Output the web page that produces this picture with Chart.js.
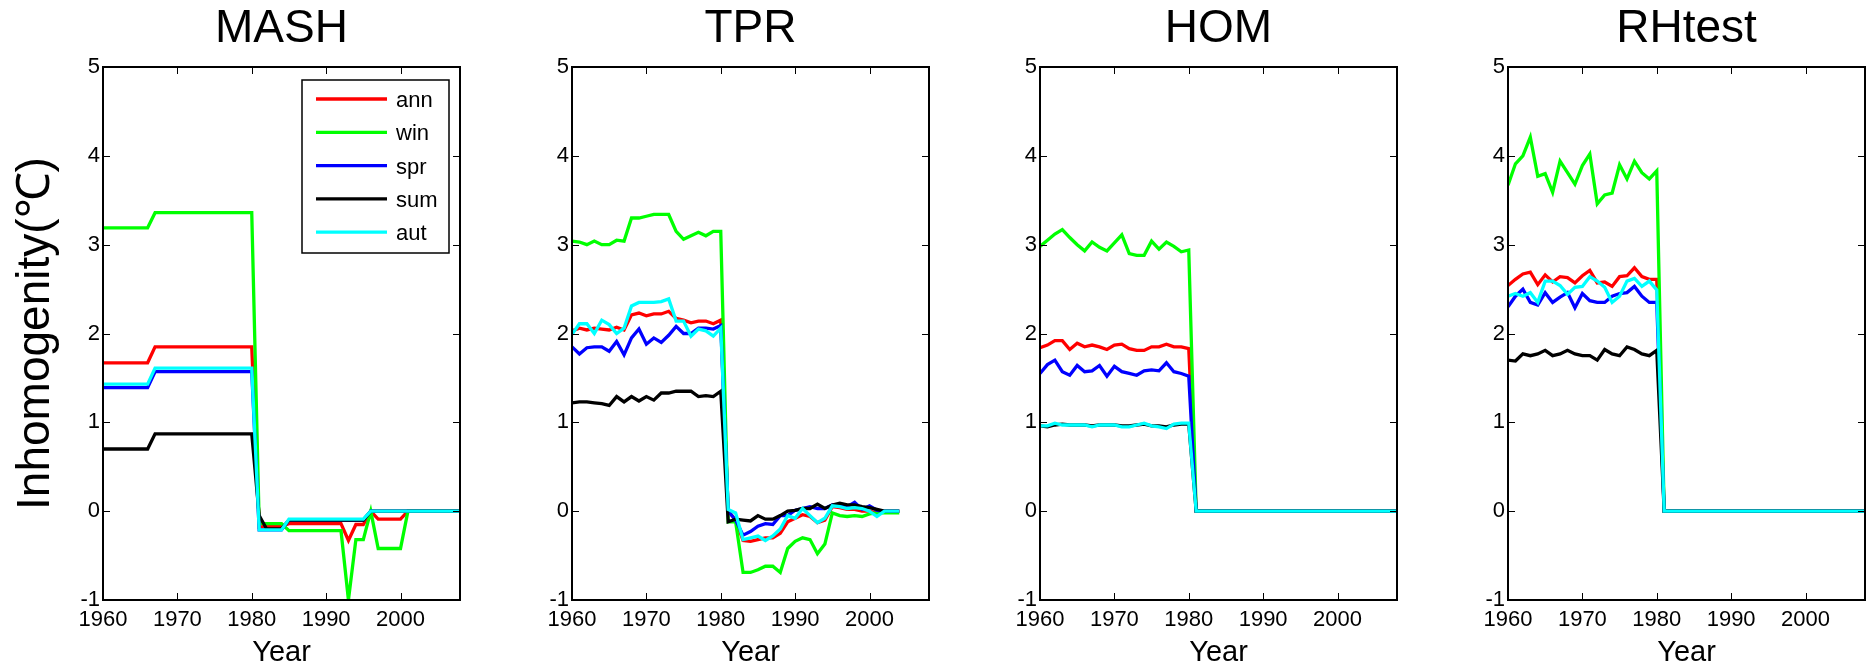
<!DOCTYPE html>
<html>
<head>
<meta charset="utf-8">
<script src="https://cdn.jsdelivr.net/npm/chart.js@4.4.0/dist/chart.umd.min.js"></script>
<style>
	body { margin: 0; background: #fff; }
	#wrap { position: relative; width: 1872px; height: 667px; overflow: hidden; }
	canvas { position: absolute; top: 0; }
</style>
</head>
<body>
<div id="wrap"></div>
<script>
// Series names and colours (same in all panels)
const seriesLabels = ['ann', 'win', 'spr', 'sum', 'aut'];
const seriesColors = ['#ff0000', '#00ff00', '#0000ff', '#000000', '#00ffff'];

// Years
const yearsFull = [1960,1961,1962,1963,1964,1965,1966,1967,1968,1969,1970,1971,1972,1973,1974,1975,1976,1977,1978,1979,1980,
	1981,1982,1983,1984,1985,1986,1987,1988,1989,1990,1991,1992,1993,1994,1995,1996,1997,1998,1999,2000,2001,2002,2003,2004,2005,2006,2007,2008];
const yearsTpr = [1960,1961,1962,1963,1964,1965,1966,1967,1968,1969,1970,1971,1972,1973,1974,1975,1976,1977,1978,1979,1980,
	1981,1982,1983,1984,1985,1986,1987,1988,1989,1990,1991,1992,1993,1994,1995,1996,1997,1998,1999,2000,2001,2002,2003,2004];

// Axis ticks
const xTicks = [1960, 1970, 1980, 1990, 2000];
const yTicks = [-1, 0, 1, 2, 3, 4, 5];

// MASH
const mashAnn = [1.67,1.67,1.67,1.67,1.67,1.67,1.67,1.85,1.85,1.85,1.85,1.85,1.85,1.85,1.85,1.85,1.85,1.85,1.85,1.85,1.85,
	-0.18,-0.17,-0.17,-0.17,-0.14,-0.14,-0.14,-0.14,-0.14,-0.14,-0.14,-0.14,-0.33,-0.15,-0.15,0,-0.09,-0.09,-0.09,-0.09,0,0,0,0,0,0,0,0];
const mashWin = [3.19,3.19,3.19,3.19,3.19,3.19,3.19,3.36,3.36,3.36,3.36,3.36,3.36,3.36,3.36,3.36,3.36,3.36,3.36,3.36,3.36,
	-0.14,-0.14,-0.14,-0.14,-0.22,-0.22,-0.22,-0.22,-0.22,-0.22,-0.22,-0.22,-1.0,-0.32,-0.32,0,-0.42,-0.42,-0.42,-0.42,0,0,0,0,0,0,0,0];
const mashSpr = [1.39,1.39,1.39,1.39,1.39,1.39,1.39,1.57,1.57,1.57,1.57,1.57,1.57,1.57,1.57,1.57,1.57,1.57,1.57,1.57,1.57,
	-0.21,-0.21,-0.21,-0.21,-0.1,-0.1,-0.1,-0.1,-0.1,-0.1,-0.1,-0.1,-0.1,-0.1,-0.1,0,0,0,0,0,0,0,0,0,0,0,0,0];
const mashSum = [0.70,0.70,0.70,0.70,0.70,0.70,0.70,0.87,0.87,0.87,0.87,0.87,0.87,0.87,0.87,0.87,0.87,0.87,0.87,0.87,0.87,
	-0.05,-0.2,-0.2,-0.2,-0.1,-0.1,-0.1,-0.1,-0.1,-0.1,-0.1,-0.1,-0.1,-0.1,-0.1,0,0,0,0,0,0,0,0,0,0,0,0,0];
const mashAut = [1.43,1.43,1.43,1.43,1.43,1.43,1.43,1.61,1.61,1.61,1.61,1.61,1.61,1.61,1.61,1.61,1.61,1.61,1.61,1.61,1.61,
	-0.21,-0.21,-0.21,-0.21,-0.09,-0.09,-0.09,-0.09,-0.09,-0.09,-0.09,-0.09,-0.09,-0.09,-0.09,0,0,0,0,0,0,0,0,0,0,0,0,0];

// TPR
const tprAnn = [2.03,2.06,2.04,2.06,2.05,2.04,2.07,2.04,2.21,2.23,2.2,2.22,2.22,2.25,2.17,2.15,2.12,2.14,2.14,2.11,2.15,
	0.0,-0.1,-0.33,-0.34,-0.32,-0.3,-0.3,-0.25,-0.12,-0.08,-0.04,-0.06,-0.13,-0.1,0.05,0.04,0.02,0.02,0.0,0.0,-0.02,0.0,0.0,0.0];
const tprWin = [3.04,3.03,3.0,3.04,3.0,3.0,3.05,3.04,3.3,3.3,3.32,3.34,3.34,3.34,3.15,3.06,3.1,3.14,3.1,3.15,3.15,
	-0.12,-0.12,-0.69,-0.69,-0.66,-0.62,-0.62,-0.69,-0.42,-0.34,-0.3,-0.32,-0.48,-0.37,-0.02,-0.05,-0.06,-0.05,-0.06,-0.03,-0.02,-0.02,-0.02,-0.02];
const tprSpr = [1.85,1.77,1.84,1.85,1.85,1.8,1.91,1.76,1.95,2.05,1.88,1.95,1.9,1.98,2.08,2.0,2.0,2.06,2.06,2.05,2.09,
	0.0,-0.1,-0.27,-0.23,-0.17,-0.14,-0.15,-0.05,-0.05,0.01,0.03,0.05,0.03,0.03,0.07,0.07,0.05,0.1,0.02,0.06,0.01,0.0,0.0,0.0];
const tprSum = [1.22,1.23,1.23,1.22,1.21,1.19,1.29,1.23,1.29,1.24,1.29,1.25,1.33,1.33,1.35,1.35,1.35,1.29,1.3,1.29,1.35,
	-0.12,-0.09,-0.1,-0.11,-0.05,-0.09,-0.09,-0.05,0.0,0.01,0.03,0.03,0.08,0.03,0.07,0.09,0.07,0.07,0.05,0.04,0.02,0.0,0.0,0.0];
const tprAut = [1.99,2.11,2.11,2.0,2.15,2.1,2.0,2.06,2.31,2.35,2.35,2.35,2.36,2.39,2.14,2.14,1.97,2.05,2.03,1.97,2.06,
	0.02,-0.02,-0.32,-0.3,-0.28,-0.33,-0.28,-0.2,-0.05,-0.08,0.03,-0.05,-0.13,-0.08,0.06,0.05,0.03,0.04,0.03,0.0,-0.06,0.0,0.0,0.0];

// HOM
const homAnn = [1.84,1.87,1.92,1.92,1.82,1.89,1.85,1.87,1.85,1.82,1.87,1.88,1.83,1.81,1.81,1.85,1.85,1.88,1.85,1.85,1.83,
	0,0,0,0,0,0,0,0,0,0,0,0,0,0,0,0,0,0,0,0,0,0,0,0,0,0,0,0];
const homWin = [2.98,3.05,3.12,3.17,3.08,3.0,2.93,3.03,2.97,2.93,3.02,3.11,2.9,2.88,2.88,3.04,2.95,3.03,2.98,2.92,2.94,
	0,0,0,0,0,0,0,0,0,0,0,0,0,0,0,0,0,0,0,0,0,0,0,0,0,0,0,0];
const homSpr = [1.55,1.65,1.7,1.57,1.53,1.64,1.57,1.58,1.64,1.52,1.63,1.57,1.55,1.53,1.58,1.59,1.58,1.67,1.57,1.55,1.52,
	0,0,0,0,0,0,0,0,0,0,0,0,0,0,0,0,0,0,0,0,0,0,0,0,0,0,0,0];
const homSum = [0.96,0.95,0.97,0.98,0.97,0.97,0.97,0.96,0.97,0.97,0.97,0.96,0.96,0.97,0.98,0.96,0.96,0.95,0.97,0.98,0.98,
	0,0,0,0,0,0,0,0,0,0,0,0,0,0,0,0,0,0,0,0,0,0,0,0,0,0,0,0];
const homAut = [0.96,0.96,0.99,0.97,0.97,0.97,0.97,0.95,0.97,0.97,0.97,0.95,0.95,0.97,0.99,0.96,0.95,0.93,0.98,0.99,0.99,
	0,0,0,0,0,0,0,0,0,0,0,0,0,0,0,0,0,0,0,0,0,0,0,0,0,0,0,0];

// RHtest
const rhAnn = [2.54,2.61,2.67,2.69,2.55,2.66,2.58,2.64,2.63,2.57,2.65,2.71,2.57,2.58,2.53,2.64,2.65,2.74,2.64,2.61,2.61,
	0,0,0,0,0,0,0,0,0,0,0,0,0,0,0,0,0,0,0,0,0,0,0,0,0,0,0,0];
const rhWin = [3.67,3.91,4.0,4.21,3.77,3.8,3.59,3.94,3.81,3.68,3.89,4.02,3.46,3.56,3.58,3.9,3.74,3.94,3.81,3.74,3.83,
	0,0,0,0,0,0,0,0,0,0,0,0,0,0,0,0,0,0,0,0,0,0,0,0,0,0,0,0];
const rhSpr = [2.3,2.42,2.5,2.35,2.32,2.46,2.35,2.41,2.46,2.29,2.45,2.37,2.35,2.35,2.42,2.45,2.46,2.53,2.42,2.35,2.35,
	0,0,0,0,0,0,0,0,0,0,0,0,0,0,0,0,0,0,0,0,0,0,0,0,0,0,0,0];
const rhSum = [1.7,1.69,1.77,1.75,1.77,1.81,1.75,1.77,1.81,1.77,1.75,1.75,1.7,1.82,1.77,1.75,1.85,1.82,1.77,1.75,1.81,
	0,0,0,0,0,0,0,0,0,0,0,0,0,0,0,0,0,0,0,0,0,0,0,0,0,0,0,0];
const rhAut = [2.42,2.45,2.42,2.46,2.35,2.59,2.59,2.54,2.44,2.52,2.53,2.64,2.59,2.52,2.35,2.42,2.59,2.62,2.53,2.59,2.49,
	0,0,0,0,0,0,0,0,0,0,0,0,0,0,0,0,0,0,0,0,0,0,0,0,0,0,0,0];

const panels = [
	{ title: 'MASH', years: yearsFull, series: [mashAnn, mashWin, mashSpr, mashSum, mashAut], left: 0, yTitle: true, legend: true },
	{ title: 'TPR', years: yearsTpr, series: [tprAnn, tprWin, tprSpr, tprSum, tprAut], left: 469 },
	{ title: 'HOM', years: yearsFull, series: [homAnn, homWin, homSpr, homSum, homAut], left: 937 },
	{ title: 'RHtest', years: yearsFull, series: [rhAnn, rhWin, rhSpr, rhSum, rhAut], left: 1405 },
];

const FONT = 'Liberation Sans, Arial, Helvetica, sans-serif';

// Box around the plot and MATLAB-style inward ticks on all four sides
const framePlugin = {
	id: 'frame',
	afterDatasetsDraw(chart) {
		const { ctx, chartArea: a, scales: { x, y } } = chart;
		ctx.save();
		ctx.strokeStyle = '#000';
		ctx.lineWidth = 1;
		ctx.beginPath();
		x.ticks.forEach((t) => {
			const p = Math.round(x.getPixelForValue(t.value)) + 0.5;
			ctx.moveTo(p, a.bottom); ctx.lineTo(p, a.bottom - 7);
			ctx.moveTo(p, a.top); ctx.lineTo(p, a.top + 7);
		});
		y.ticks.forEach((t) => {
			const p = Math.round(y.getPixelForValue(t.value)) + 0.5;
			ctx.moveTo(a.left, p); ctx.lineTo(a.left + 7, p);
			ctx.moveTo(a.right, p); ctx.lineTo(a.right - 7, p);
		});
		ctx.stroke();
		ctx.lineWidth = 2;
		ctx.strokeRect(a.left, a.top, a.width, a.height);
		ctx.restore();
	},
};

// Boxed legend inside the top right of the plot
const boxLegendPlugin = {
	id: 'boxLegend',
	afterDraw(chart, args, opts) {
		if (!opts.show) return;
		const { ctx, chartArea: a } = chart;
		const bx = a.right - 158, by = a.top + 13, bw = 147, bh = 173;
		ctx.save();
		ctx.fillStyle = '#fff';
		ctx.fillRect(bx, by, bw, bh);
		ctx.strokeStyle = '#000';
		ctx.lineWidth = 1.5;
		ctx.strokeRect(bx, by, bw, bh);
		chart.data.datasets.forEach((ds, i) => {
			const ly = by + 19 + i * 33.3;
			ctx.strokeStyle = ds.borderColor;
			ctx.lineWidth = 3.3;
			ctx.beginPath();
			ctx.moveTo(bx + 14, ly);
			ctx.lineTo(bx + 85, ly);
			ctx.stroke();
			ctx.fillStyle = '#000';
			ctx.font = '22px ' + FONT;
			ctx.textBaseline = 'middle';
			ctx.fillText(ds.label, bx + 94, ly + 2);
		});
		ctx.restore();
	},
};

const wrap = document.getElementById('wrap');

panels.forEach((panel) => {
	const canvas = document.createElement('canvas');
	canvas.width = 468;
	canvas.height = 667;
	canvas.style.left = panel.left + 'px';
	wrap.appendChild(canvas);

	const datasets = seriesLabels.map((label, i) => ({
		label: label,
		data: panel.years.map((yr, j) => ({ x: yr, y: panel.series[i][j] })),
		borderColor: seriesColors[i],
		backgroundColor: seriesColors[i],
		borderWidth: 3.3,
		pointRadius: 0,
		fill: false,
		order: seriesLabels.length - i, // later series drawn on top
	}));

	new Chart(canvas.getContext('2d'), {
		type: 'line',
		data: { datasets: datasets },
		plugins: [framePlugin, boxLegendPlugin],
		options: {
			responsive: false,
			animation: false,
			devicePixelRatio: 1,
			layout: { padding: { left: 0, right: 8, top: 0, bottom: 0 } },
			plugins: {
				legend: { display: false },
				tooltip: { enabled: false },
				boxLegend: { show: !!panel.legend },
				title: {
					display: true,
					text: panel.title,
					fullSize: false,
					color: '#000',
					font: { family: FONT, size: 46, weight: 'normal', lineHeight: 1 },
					padding: { top: 6, bottom: 15 },
				},
			},
			scales: {
				x: {
					type: 'linear',
					min: 1960,
					max: 2008,
					grid: { display: false, drawTicks: false },
					border: { display: false },
					afterBuildTicks: (s) => { s.ticks = xTicks.map((v) => ({ value: v })); },
					ticks: {
						color: '#000',
						font: { family: FONT, size: 22 },
						padding: 7,
						maxRotation: 0,
						autoSkip: false,
						callback: (v) => String(v),
					},
					title: {
						display: true,
						text: 'Year',
						color: '#000',
						font: { family: FONT, size: 29, lineHeight: 1 },
						padding: { top: 0, bottom: 0 },
					},
					afterFit: (s) => { s.height = 67; },
				},
				y: {
					min: -1,
					max: 5,
					grid: { display: false, drawTicks: false },
					border: { display: false },
					afterBuildTicks: (s) => { s.ticks = yTicks.map((v) => ({ value: v })); },
					ticks: {
						color: '#000',
						font: { family: FONT, size: 22 },
						padding: 3,
						callback: (v) => String(v),
					},
					title: {
						display: !!panel.yTitle,
						text: 'Inhomogenity(℃)',
						color: '#000',
						font: { family: FONT, size: 46, lineHeight: 1 },
						padding: { top: 13, bottom: 0 },
					},
					afterFit: (s) => { s.width = 103; },
				},
			},
		},
	});
});
</script>
</body>
</html>
